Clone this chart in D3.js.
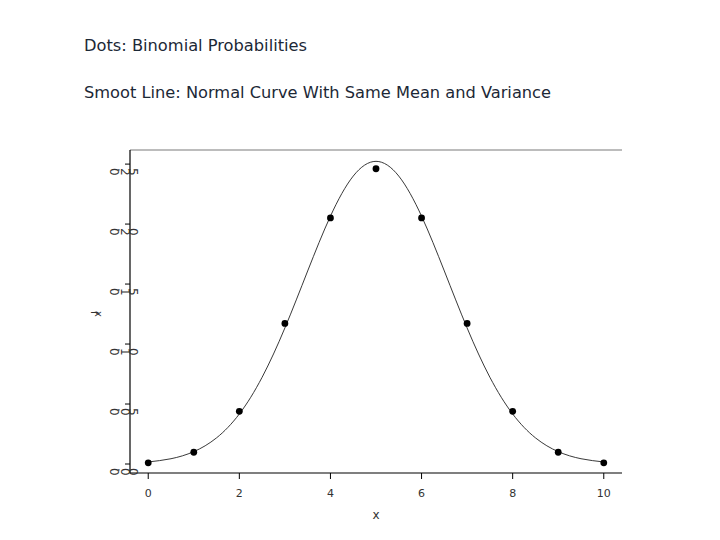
<!DOCTYPE html>
<html>
<head>
<meta charset="utf-8">
<script src="https://cdn.jsdelivr.net/npm/d3@7"></script>
<style>
  html, body { margin: 0; padding: 0; background: #fff; }
  svg { display: block; }
</style>
</head>
<body>
<svg id="chart" width="720" height="540"></svg>
<script>
// ---- data ----
const titleLines = ["Dots: Binomial Probabilities", "Smoot Line: Normal Curve With Same Mean and Variance"];
const xValues = [0, 1, 2, 3, 4, 5, 6, 7, 8, 9, 10];
const binomProb = [0.001, 0.0098, 0.0439, 0.1172, 0.2051, 0.2461, 0.2051, 0.1172, 0.0439, 0.0098, 0.001];
const curveX = [0, 0.5, 1, 1.5, 2, 2.5, 3, 3.5, 4, 4.5, 5, 5.5, 6, 6.5, 7, 7.5, 8, 8.5, 9, 9.5, 10];
const curveY = [0.0017, 0.0044, 0.0103, 0.0218, 0.0417, 0.0723, 0.1134, 0.1609, 0.2066, 0.2400, 0.2523,
                0.2400, 0.2066, 0.1609, 0.1134, 0.0723, 0.0417, 0.0218, 0.0103, 0.0044, 0.0017];
const xTicks = [0, 2, 4, 6, 8, 10];
const yTicks = [0, 0.05, 0.10, 0.15, 0.20, 0.25];
const yTickLabels = ["0.00", "0.05", "0.10", "0.15", "0.20", "0.25"];

// ---- layout ----
const svg = d3.select("#chart");
const pLeft = 130, pRight = 622, pTop = 150, pBottom = 473;

const x = d3.scaleLinear().domain([-0.4, 10.4]).range([pLeft, pRight]);
const y = d3.scaleLinear().domain([-0.0075, 0.26175]).range([pBottom, pTop]);

// titles
const titleColor = "#1c2836";
svg.append("text").attr("x", 84).attr("y", 51)
  .attr("font-family", "DejaVu Sans, Verdana, sans-serif").attr("font-size", 16)
  .attr("fill", titleColor).attr("textLength", 223).attr("lengthAdjust", "spacingAndGlyphs")
  .text(titleLines[0]);
svg.append("text").attr("x", 84).attr("y", 98)
  .attr("font-family", "DejaVu Sans, Verdana, sans-serif").attr("font-size", 16)
  .attr("fill", titleColor).attr("textLength", 467).attr("lengthAdjust", "spacingAndGlyphs")
  .text(titleLines[1]);

// frame: gray top line, black axes
svg.append("line").attr("x1", pLeft).attr("x2", pRight).attr("y1", pTop).attr("y2", pTop)
  .attr("stroke", "#7a7a7a").attr("stroke-width", 1.2);
svg.append("line").attr("x1", pLeft).attr("x2", pLeft).attr("y1", pTop).attr("y2", pBottom)
  .attr("stroke", "#000").attr("stroke-width", 1.2);
svg.append("line").attr("x1", pLeft).attr("x2", pRight).attr("y1", pBottom).attr("y2", pBottom)
  .attr("stroke", "#000").attr("stroke-width", 1.2);

// x ticks + labels
const xg = svg.append("g");
xg.selectAll("line").data(xTicks).join("line")
  .attr("x1", d => x(d)).attr("x2", d => x(d))
  .attr("y1", pBottom).attr("y2", pBottom + 6)
  .attr("stroke", "#000").attr("stroke-width", 1);
xg.selectAll("text").data(xTicks).join("text")
  .attr("x", d => x(d)).attr("y", 497)
  .attr("text-anchor", "middle")
  .attr("font-family", "DejaVu Sans, Verdana, sans-serif").attr("font-size", 11)
  .attr("fill", "#333").text(d => d);
svg.append("text").attr("x", (pLeft + pRight) / 2).attr("y", 519)
  .attr("text-anchor", "middle")
  .attr("font-family", "DejaVu Sans, Verdana, sans-serif").attr("font-size", 12)
  .attr("fill", "#333").text("x");

// y ticks + labels (glyphs individually rotated, as in the reference)
const yg = svg.append("g");
yg.selectAll("line").data(yTicks).join("line")
  .attr("x1", pLeft - 5).attr("x2", pLeft)
  .attr("y1", d => y(d)).attr("y2", d => y(d))
  .attr("stroke", "#000").attr("stroke-width", 1);
yg.selectAll("text").data(yTicks).join("text")
  .attr("x", 110).attr("y", d => y(d) + 4)
  .attr("rotate", 90)
  .attr("font-family", "DejaVu Sans, Verdana, sans-serif").attr("font-size", 12)
  .attr("fill", "#333").text((d, i) => yTickLabels[i]);
svg.append("text").attr("x", 91).attr("y", 311)
  .attr("rotate", 90)
  .attr("font-family", "DejaVu Sans, Verdana, sans-serif").attr("font-size", 10)
  .attr("fill", "#333").text("fx");

// normal curve
const curveData = curveX.map((v, i) => [v, curveY[i]]);
svg.append("path").datum(curveData)
  .attr("d", d3.line().x(d => x(d[0])).y(d => y(d[1])).curve(d3.curveNatural))
  .attr("fill", "none").attr("stroke", "#222").attr("stroke-width", 0.9);

// binomial dots
svg.append("g").selectAll("circle").data(xValues).join("circle")
  .attr("cx", d => x(d)).attr("cy", (d, i) => y(binomProb[i]))
  .attr("r", 3.4).attr("fill", "#000");
</script>
</body>
</html>
